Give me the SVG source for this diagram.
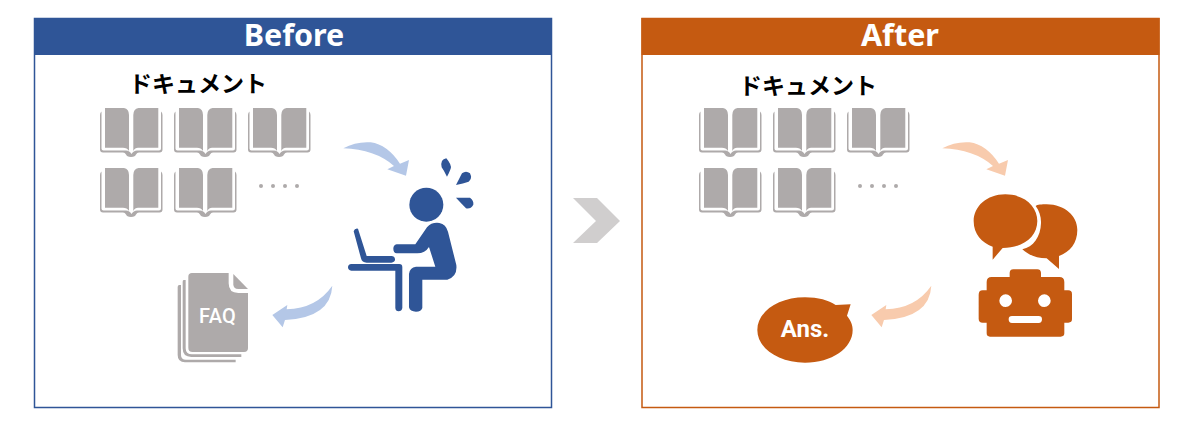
<svg xmlns="http://www.w3.org/2000/svg" width="1200" height="427" viewBox="0 0 1200 427">
<style>
.title{font-family:"Noto Sans","Open Sans","Liberation Sans",sans-serif;font-weight:700;font-size:30.500px;fill:#fff;text-anchor:middle}
.doc{font-family:"Noto Sans CJK JP",sans-serif;font-weight:700;font-size:23px;fill:#000}
.gray{fill:#aeaaaa}
.blue{fill:#2f5597}
.orange{fill:#c55a11}
.lblue{fill:#b4c7e7}
.lorange{fill:#f8cbad}
</style>
<defs>
<g id="book">
<path class="gray" d="M1.500 3.500Q0 4.500 0 7V41.500Q0 44.500 3 44.500H23Q25 44.500 26 46.500L27 48Q31 50 35 48L36 46.500Q37 44.500 39 44.500H59.500Q62.500 44.500 62.500 41.500V7Q62.500 4.500 61 3.500V40.500Q61 42.500 59 42.500H37Q33.500 42.500 31.500 46Q29.500 42.500 26 42.500H3.500Q1.500 42.500 1.500 40.500Z"/>
<path class="gray" d="M5 0H24Q29 1 29 7V43Q27 39.700 23 39.700H5Z"/>
<path class="gray" d="M33.300 7Q33.300 1 38.500 0H58.300V39.700H38Q35 39.700 33.300 43Z"/>
</g>
<g id="books">
<use href="#book" x="0" y="0"/>
<use href="#book" x="74" y="0"/>
<use href="#book" x="148" y="0"/>
<use href="#book" x="0" y="60"/>
<use href="#book" x="74" y="60"/>
<circle class="gray" cx="161" cy="78" r="2"/>
<circle class="gray" cx="173" cy="78" r="2"/>
<circle class="gray" cx="185" cy="78" r="2"/>
<circle class="gray" cx="197" cy="78" r="2"/>
</g>
<path id="arrowDown" transform="scale(.3333)" d="M40 55Q78 34 122 37Q172 44 210 101L237 90L228 137L172 118L192 108Q135 58 40 55Z"/>
<path id="arrowLeft" transform="scale(.3333)" d="M487 62Q482 158 345 165L338 187L307 150L352 120L350 133Q440 130 487 62Z"/>
</defs>
<g id="before-panel">
<rect x="34.500" y="18.500" width="517" height="389" fill="#fff" stroke="#2f5597" stroke-width="1.500"/>
<rect x="34" y="18" width="518" height="37" class="blue"/>
<text class="title" x="294" y="46">Before</text>
</g>
<g id="after-panel">
<rect x="642" y="18.500" width="517" height="389" fill="#fff" stroke="#c55a11" stroke-width="1.500"/>
<rect x="641.500" y="18" width="518" height="37" class="orange"/>
<text class="title" x="900" y="46">After</text>
</g>
<g id="before-docs">
<text class="doc" x="129" y="92">ドキュメント</text>
<use href="#books" x="100" y="108"/>
</g>
<g id="after-docs">
<text class="doc" x="739" y="94">ドキュメント</text>
<use href="#books" x="699" y="108"/>
</g>
<g id="person" transform="translate(330 130) scale(.3333)">
<circle class="blue" cx="289" cy="224" r="51"/>
<path class="blue" d="M349 85Q366 105 362 116Q356 132 351 140Q342 122 335 112Q330 88 349 85Z"/>
<path class="blue" d="M378 165L396 130Q408 121 420 130Q428 145 416 155Q400 160 378 165Z"/>
<path class="blue" d="M378 203L420 203Q432 212 430 224Q422 238 408 235Q394 220 378 203Z"/>
<path class="blue" d="M84 296Q74 294 71 304L93 385Q96 398 110 398H184Q196 396 195 387Q194 378 184 378H110Z"/>
<path class="blue" d="M64 402H208Q217 402 217 412V534Q215 544 206 544Q197 544 196 534V422H64Q54 420 54 412Q54 403 64 402Z"/>
<path class="blue" d="M200 343H256L291 292Q305 276 328 279Q348 283 354 305L379 405Q383 440 352 449H277V534Q274 545 258 545Q240 545 237 532V432Q239 412 258 410H316L297 351Q285 370 262 370H200Q190 368 190 356Q190 345 200 343Z"/>
</g>
<g id="faq" transform="translate(170 265) scale(.3333)">
<path class="gray" d="M35 60H28Q23 60 23 66V270Q23 292 45 292H197V284H48Q33 284 33 270V60Z"/>
<path class="gray" d="M47 45H41Q38 45 38 50V250Q38 276 64 276H214V268H66Q47 268 47 250Z"/>
<path class="gray" d="M66 24H176V55Q176 84 205 84H234V250Q234 261 222 261H68Q55 261 55 248V35Q55 24 66 24Z"/>
<path class="gray" d="M190 27L234 72H205Q190 72 190 58Z"/>
<text x="143" y="175" text-anchor="middle" font-family="Roboto,'Liberation Sans',sans-serif" font-weight="500" font-size="60" letter-spacing="1" fill="#fff">FAQ</text>
</g>
<g id="robot" transform="translate(930 130) scale(.3333)">
<path class="orange" d="M226 193C285 193 322 230 322 273C322 320 280 354 218 354L188 389V350C155 338 131 312 131 273C131 230 170 193 226 193Z"/>
<path class="orange" d="M317 228C322 224 335 223 350 223C405 224 442 258 442 300C442 340 420 366 387 378V417L350 385C320 385 295 375 277 358C310 352 332 320 333 280C334 262 328 242 317 228Z"/>
<path class="orange" fill-rule="evenodd" d="M250 418H322Q332 418 333 428V441H388Q403 441 403 456V481H415Q426 481 426 492V568Q426 578 415 578H403V610Q403 620 392 620H180Q170 620 170 610V578H158Q146 578 146 566V494Q146 481 158 481H170V456Q170 441 185 441H239V428Q240 418 250 418ZM227 493A19 19 0 1 0 227.100 531A19 19 0 1 0 227 493ZM343 493A19 19 0 1 0 343.100 531A19 19 0 1 0 343 493ZM246 558Q236 558 236 568Q236 579 246 579H326Q336 579 336 568Q336 558 326 558Z"/>
</g>
<g id="answer" transform="translate(740 275) scale(.3333)">
<path class="orange" d="M195 67C235 67 265 76 287 90L332 88L321 122C333 138 338 150 338 165C338 220 275 263 195 263C115 263 52 220 52 165C52 110 115 67 195 67Z"/>
<text x="195" y="187" text-anchor="middle" font-family="Roboto,'Liberation Sans',sans-serif" font-weight="700" font-size="72" fill="#fff">Ans.</text>
</g>
<g id="next-chevron">
<path d="M573 198H597L620 221L597 243H573L596 221Z" fill="#d0cece"/>
</g>
<g id="connectors">
<use href="#arrowDown" class="lblue" x="330" y="130"/>
<use href="#arrowLeft" class="lblue" x="170" y="265"/>
<use href="#arrowDown" class="lorange" x="929" y="130"/>
<use href="#arrowLeft" class="lorange" x="769" y="265"/>
</g>
</svg>
